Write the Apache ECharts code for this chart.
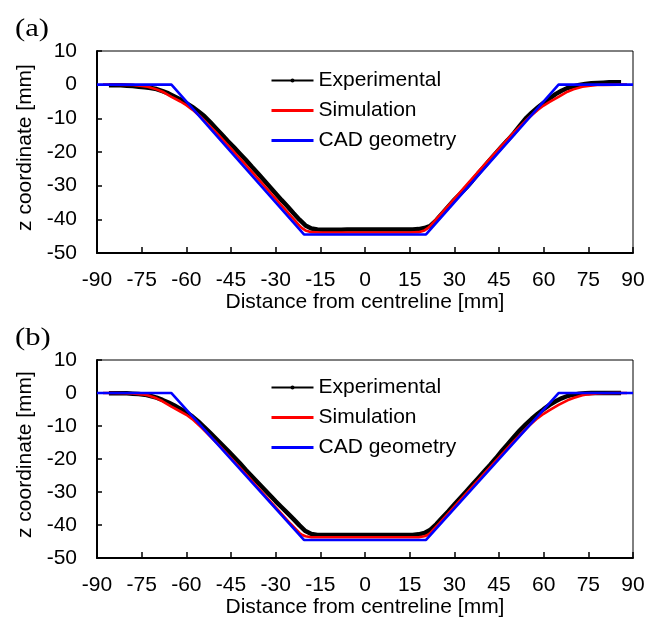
<!DOCTYPE html>
<html>
<head>
<meta charset="utf-8">
<script src="https://cdn.jsdelivr.net/npm/echarts@6/dist/echarts.min.js"></script>
<style>
  html, body { margin: 0; padding: 0; background: #fff; }
  #chart { width: 662px; height: 619px; }
</style>
</head>
<body>
<div id="chart"></div>
<script>
// ---- Data (x: distance from centreline [mm], z: coordinate [mm]) ----
const seriesNames = ['Experimental', 'Simulation', 'CAD geometry'];
const panelLabels = ['(a)', '(b)'];
const xTicks = { min: -90, max: 90, step: 15 };
const yTicks = { min: -50, max: 10, step: 10 };

const cadA = [[-90, 0], [-65, 0], [-20.5, -44.5], [20.5, -44.5], [65, 0], [90, 0]];
const cadB = [[-90, 0], [-65, 0], [-20.5, -44.5], [20.5, -44.5], [65, 0], [90, 0]];

const expA = [
  [-86, -0.2], [-84, -0.2], [-82, -0.2], [-80, -0.3], [-78, -0.4], [-76, -0.6], [-74, -0.8], [-72, -1.0],
  [-70, -1.3], [-68, -1.9], [-66, -2.6], [-64, -3.5], [-62, -4.4], [-60, -5.5], [-58, -6.6], [-56, -7.9],
  [-54, -9.3], [-52, -11.1], [-50, -13.0], [-48, -14.9], [-46, -16.8], [-44, -18.6], [-42, -20.5], [-40, -22.4],
  [-38, -24.4], [-36, -26.3], [-34, -28.3], [-32, -30.3], [-30, -32.3], [-28, -34.3], [-26, -36.2], [-24, -38.2],
  [-22, -40.1], [-20, -41.8], [-18, -42.7], [-16, -43.0], [-14, -43.1], [-12, -43.1], [-10, -43.1], [-8, -43.1],
  [-6, -43.0], [-4, -43.0], [-2, -43.0], [0, -43.0], [2, -43.0], [4, -43.0], [6, -43.0], [8, -43.0],
  [10, -43.0], [12, -43.0], [14, -43.0], [16, -43.0], [18, -42.9], [20, -42.6], [22, -41.9], [24, -40.2],
  [26, -38.2], [28, -36.2], [30, -34.2], [32, -32.4], [34, -30.6], [36, -28.6], [38, -26.4], [40, -24.4],
  [42, -22.3], [44, -20.3], [46, -18.3], [48, -16.4], [50, -14.4], [52, -12.2], [54, -10.0], [56, -8.3],
  [58, -6.8], [60, -5.4], [62, -4.1], [64, -2.8], [66, -1.8], [68, -1.0], [70, -0.5], [72, -0.1],
  [74, 0.2], [76, 0.4], [78, 0.5], [80, 0.6], [82, 0.7], [84, 0.7], [86, 0.7]
];

const simA = [
  [-88, 0], [-85, 0], [-80, -0.05], [-78, -0.1], [-75, -0.35], [-73, -0.6], [-70, -1.4], [-68, -2.1],
  [-65, -3.6], [-62, -5.0], [-60, -6.1], [-58, -7.4], [-55, -9.7], [-50, -14.2], [-45, -19.0], [-40, -23.9],
  [-35, -28.9], [-30, -33.9], [-25, -38.9], [-22, -41.9], [-21, -42.7], [-20, -43.3], [-18, -43.8], [-15, -43.9],
  [-10, -43.9], [-5, -43.9], [0, -43.9], [5, -43.9], [10, -43.9], [15, -43.9], [18, -43.8], [20, -43.3],
  [21, -42.7], [22, -41.9], [25, -38.9], [30, -33.9], [35, -28.9], [40, -23.9], [45, -19.0], [50, -14.2],
  [55, -9.8], [58, -7.5], [60, -6.2], [62, -5.1], [65, -3.6], [68, -2.1], [70, -1.4], [73, -0.6],
  [75, -0.35], [78, -0.1], [80, -0.05], [85, 0], [88, 0]
];

const expB = [
  [-86, -0.1], [-84, -0.1], [-82, -0.1], [-80, -0.1], [-78, -0.2], [-76, -0.3], [-74, -0.5], [-72, -0.9],
  [-70, -1.4], [-68, -2.1], [-66, -2.9], [-64, -3.8], [-62, -4.8], [-60, -5.9], [-58, -7.1], [-56, -8.6],
  [-54, -10.3], [-52, -12.1], [-50, -13.9], [-48, -15.7], [-46, -17.5], [-44, -19.4], [-42, -21.3], [-40, -23.3],
  [-38, -25.2], [-36, -27.1], [-34, -29.0], [-32, -30.9], [-30, -32.8], [-28, -34.6], [-26, -36.4], [-24, -38.2],
  [-22, -40.1], [-20, -41.8], [-18, -42.7], [-16, -43.0], [-14, -43.0], [-12, -43.0], [-10, -43.0], [-8, -43.0],
  [-6, -43.0], [-4, -43.0], [-2, -43.0], [0, -43.0], [2, -43.0], [4, -43.0], [6, -43.0], [8, -43.0],
  [10, -43.0], [12, -43.0], [14, -43.0], [16, -43.0], [18, -42.8], [20, -42.4], [22, -41.4], [24, -39.7],
  [26, -37.7], [28, -35.8], [30, -33.8], [32, -31.8], [34, -29.8], [36, -27.8], [38, -25.8], [40, -23.8],
  [42, -21.8], [44, -19.7], [46, -17.5], [48, -15.4], [50, -13.3], [52, -11.3], [54, -9.5], [56, -7.8],
  [58, -6.3], [60, -4.9], [62, -3.6], [64, -2.5], [66, -1.6], [68, -0.9], [70, -0.5], [72, -0.2],
  [74, -0.1], [76, 0.0], [78, 0.0], [80, 0.0], [82, 0.0], [84, 0.0], [86, 0.0]
];

const simB = [
  [-88, 0], [-85, 0], [-80, -0.05], [-78, -0.15], [-75, -0.4], [-73, -0.7], [-70, -1.6], [-68, -2.5],
  [-65, -4.1], [-62, -5.6], [-60, -6.6], [-58, -7.9], [-55, -10.4], [-50, -14.9], [-45, -19.7], [-40, -24.6],
  [-35, -29.6], [-30, -34.6], [-25, -39.6], [-22, -42.4], [-21, -43.0], [-20, -43.4], [-18, -43.7], [-15, -43.7],
  [-10, -43.7], [-5, -43.7], [0, -43.7], [5, -43.7], [10, -43.7], [15, -43.7], [18, -43.7], [20, -43.4],
  [21, -43.0], [22, -42.3], [25, -39.4], [30, -34.4], [35, -29.4], [40, -24.4], [45, -19.5], [50, -14.6],
  [55, -10.0], [58, -7.6], [60, -6.3], [62, -5.2], [65, -3.6], [68, -2.2], [70, -1.5], [73, -0.7],
  [75, -0.4], [78, -0.15], [80, -0.05], [85, 0], [88, 0]
];

const panels = [
  { exp: expA, sim: simA, cad: cadA },
  { exp: expB, sim: simB, cad: cadB }
];

// ---- Layout / style ----
const SANS = 'Liberation Sans, Arial, sans-serif';
const SERIF = 'Liberation Serif, Times New Roman, serif';
const FS = 21;
const gridTops = [51, 360];
const gridHeights = [202, 201];
const legendTops = [70, 377];
const colors = { exp: '#000000', sim: '#ff0000', cad: '#0000ff' };

const grids = [], xAxes = [], yAxes = [], series = [], legends = [], graphics = [];

panels.forEach((p, i) => {
  grids.push({
    left: 97, right: 29, top: gridTops[i], height: gridHeights[i],
    show: true, borderColor: '#000', borderWidth: 1, backgroundColor: '#fff',
    containLabel: false
  });
  xAxes.push({
    type: 'value', gridIndex: i,
    min: xTicks.min, max: xTicks.max, interval: xTicks.step,
    name: 'Distance from centreline [mm]', nameLocation: 'middle', nameGap: 38,
    nameTextStyle: { fontFamily: SANS, fontSize: FS, color: '#000' },
    axisLine: { onZero: false, lineStyle: { color: '#000', width: 2 } },
    axisTick: { inside: true, length: 6, lineStyle: { color: '#000', width: 1.5 } },
    axisLabel: { margin: 17, fontFamily: SANS, fontSize: FS, color: '#000', showMinLabel: true, showMaxLabel: true },
    splitLine: { show: false }
  });
  yAxes.push({
    type: 'value', gridIndex: i,
    min: yTicks.min, max: yTicks.max, interval: yTicks.step,
    name: 'z coordinate [mm]', nameLocation: 'middle', nameGap: 58, nameRotate: 90,
    nameTextStyle: { fontFamily: SANS, fontSize: FS, color: '#000', padding: [0, 0, 0, 9] },
    axisLine: { onZero: false, lineStyle: { color: '#000', width: 2 } },
    axisTick: { inside: true, length: 5, lineStyle: { color: '#000', width: 1.5 } },
    axisLabel: { margin: 20, fontFamily: SANS, fontSize: FS, color: '#000', showMinLabel: true, showMaxLabel: true },
    splitLine: { show: false }
  });
  series.push({
    name: seriesNames[0], type: 'line', xAxisIndex: i, yAxisIndex: i,
    data: p.exp, symbol: 'circle', symbolSize: 4, showSymbol: false,
    lineStyle: { color: colors.exp, width: 4.5 }, itemStyle: { color: colors.exp },
    z: 2
  });
  series.push({
    name: seriesNames[1], type: 'line', xAxisIndex: i, yAxisIndex: i,
    data: p.sim, symbol: 'none', smooth: false,
    lineStyle: { color: colors.sim, width: 2.6 }, itemStyle: { color: colors.sim },
    z: 3
  });
  series.push({
    name: seriesNames[2], type: 'line', xAxisIndex: i, yAxisIndex: i,
    data: p.cad, symbol: 'none',
    lineStyle: { color: colors.cad, width: 2.6 }, itemStyle: { color: colors.cad },
    z: 4
  });
  legends.push({
    orient: 'vertical', left: 270, top: legendTops[i], padding: 0,
    itemWidth: 42, itemHeight: 5, itemGap: 9,
    textStyle: { fontFamily: SANS, fontSize: FS, color: '#000' },
    selectedMode: false,
    data: [
      { name: seriesNames[0], lineStyle: { width: 2 } },
      { name: seriesNames[1], lineStyle: { width: 3 }, itemStyle: { opacity: 0 } },
      { name: seriesNames[2], lineStyle: { width: 3 }, itemStyle: { opacity: 0 } }
    ]
  });
  graphics.push({
    type: 'text', left: 15, top: gridTops[i] - 35, scaleX: 1.18,
    style: { text: panelLabels[i], font: '26px ' + SERIF, fill: '#000' }
  });
});

const chart = echarts.init(document.getElementById('chart'), null, { renderer: 'canvas' });
chart.setOption({
  animation: false,
  backgroundColor: '#fff',
  grid: grids,
  xAxis: xAxes,
  yAxis: yAxes,
  legend: legends,
  graphic: graphics,
  series: series
});
</script>
</body>
</html>
